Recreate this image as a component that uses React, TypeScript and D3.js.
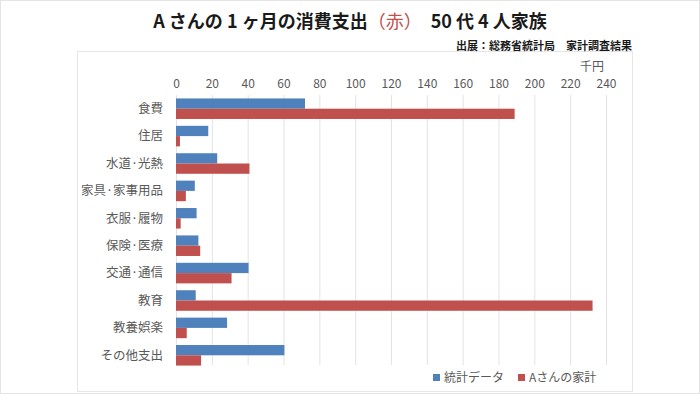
import React, { useEffect, useRef } from 'react';
import * as d3 from 'd3';

// 月の消費支出の比較（千円）
const categories = ['食費', '住居', '水道·光熱', '家具·家事用品', '衣服·履物', '保険·医療', '交通·通信', '教育', '教養娯楽', 'その他支出'];
const statValues = [72, 18, 23, 10.5, 11.5, 12.5, 40.5, 11, 28.5, 60.5];
const ownValues = [189, 2.2, 41, 5.5, 2.6, 13.5, 31, 232.5, 6, 14];
const seriesNames = ['統計データ', 'Aさんの家計'];
const ticks = [0, 20, 40, 60, 80, 100, 120, 140, 160, 180, 200, 220, 240];

const W = 700, H = 394;
const FONT = '"Noto Sans CJK JP", "Noto Sans", sans-serif';
const colors = ['#4f81bd', '#c0504d'];

export default function App() {
  const ref = useRef<SVGSVGElement>(null);

  useEffect(() => {
    const svg = d3.select(ref.current);
    svg.selectAll('*').remove();

    // outer frames
    svg.append('rect').attr('x', 0.5).attr('y', 0.5).attr('width', W - 1).attr('height', H - 1)
      .attr('fill', '#fff').attr('stroke', '#e4e4e4');
    svg.append('rect').attr('x', 77.5).attr('y', 51.5).attr('width', 555).attr('height', 340)
      .attr('fill', 'none').attr('stroke', '#e6e6e6');

    // title
    const title = svg.append('text').attr('x', 350).attr('y', 28).attr('text-anchor', 'middle')
      .attr('font-family', FONT).attr('font-weight', 'bold').attr('font-size', 18).attr('fill', '#1a1a1a');
    title.append('tspan').text('A さんの 1 ヶ月の消費支出');
    title.append('tspan').attr('fill', '#c0504d').attr('font-weight', 'normal').text('（赤）');
    title.append('tspan').text('　50 代 4 人家族');

    svg.append('text').attr('x', 632).attr('y', 50).attr('text-anchor', 'end')
      .attr('font-family', FONT).attr('font-weight', 'bold').attr('font-size', 11).attr('fill', '#1a1a1a')
      .text('出展：総務省統計局　家計調査結果');

    const x = d3.scaleLinear().domain([0, 240]).range([176, 606]);
    const y = d3.scaleBand().domain(categories).range([95, 369]).paddingInner(0.25).paddingOuter(0.125);
    const sub = d3.scaleBand().domain(['0', '1']).range([0, y.bandwidth()]);

    // gridlines
    svg.append('g').selectAll('line').data(ticks).join('line')
      .attr('x1', d => x(d) + 0.5).attr('x2', d => x(d) + 0.5)
      .attr('y1', 95).attr('y2', 365)
      .attr('stroke', '#e3e3e3');

    // top axis
    const axis = svg.append('g').attr('transform', 'translate(0,88)')
      .call(d3.axisTop(x).tickValues(ticks).tickSize(0).tickPadding(0));
    axis.select('.domain').remove();
    axis.selectAll('text').attr('font-family', FONT).attr('font-size', 12).attr('fill', '#595959');

    svg.append('text').attr('x', 604).attr('y', 71).attr('text-anchor', 'end')
      .attr('font-family', FONT).attr('font-size', 12).attr('fill', '#595959').text('千円');

    // bars
    [statValues, ownValues].forEach((vals, si) => {
      svg.append('g').selectAll('rect').data(vals).join('rect')
        .attr('x', x(0))
        .attr('y', (d, i) => (y(categories[i]) as number) + (sub(String(si)) as number))
        .attr('width', d => x(d) - x(0))
        .attr('height', sub.bandwidth())
        .attr('fill', colors[si]);
    });

    // category labels
    svg.append('g').selectAll('text').data(categories).join('text')
      .attr('x', 163)
      .attr('y', d => (y(d) as number) + y.bandwidth() / 2)
      .attr('dy', '0.35em')
      .attr('text-anchor', 'end')
      .attr('font-family', FONT).attr('font-size', 12.5).attr('fill', '#595959')
      .text(d => d);

    // legend
    const legendX = [433, 518];
    const lg = svg.append('g');
    seriesNames.forEach((name, i) => {
      lg.append('rect').attr('x', legendX[i]).attr('y', 374).attr('width', 7).attr('height', 7).attr('fill', colors[i]);
      lg.append('text').attr('x', legendX[i] + 11).attr('y', 378).attr('dy', '0.35em')
        .attr('font-family', FONT).attr('font-size', 12).attr('fill', '#595959').text(name);
    });
  }, []);

  return (
    <svg ref={ref} width={W} height={H} style={{ position: 'absolute', left: 0, top: 0 }} />
  );
}
